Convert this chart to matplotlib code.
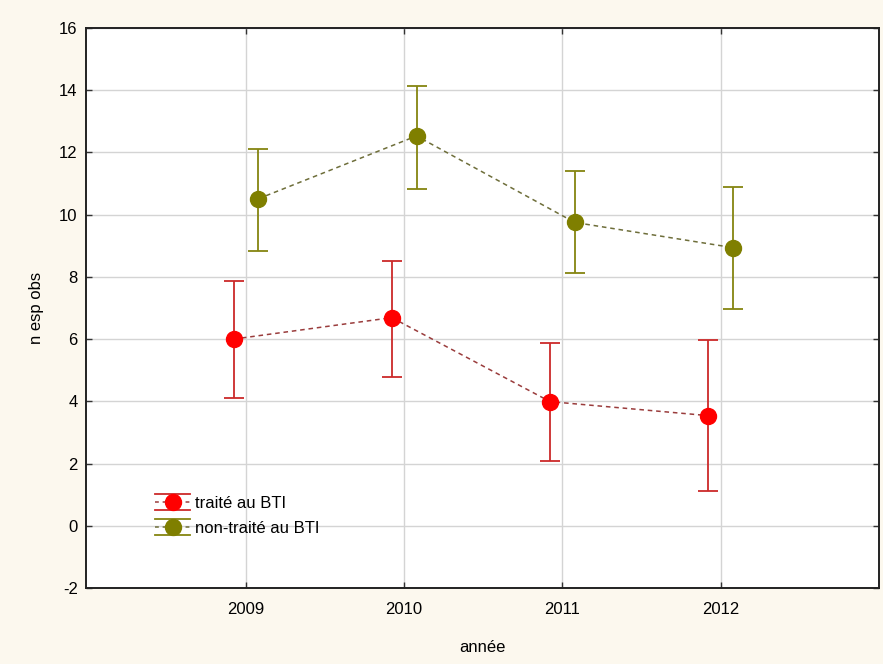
import matplotlib
matplotlib.use("Agg")
import matplotlib.pyplot as plt
from matplotlib.legend_handler import HandlerBase
from matplotlib.lines import Line2D
import numpy as np

plt.rcParams['font.family'] = ['Liberation Sans', 'DejaVu Sans']
plt.rcParams['axes.unicode_minus'] = False

years = ["2009", "2010", "2011", "2012"]
series_names = ["traité au BTI", "non-traité au BTI"]
treated_mean = [6.0, 6.69, 3.99, 3.54]
treated_low = [4.10, 4.77, 2.08, 1.13]
treated_high = [7.87, 8.51, 5.88, 5.96]
untreated_mean = [10.51, 12.53, 9.75, 8.94]
untreated_low = [8.84, 10.84, 8.11, 6.97]
untreated_high = [12.12, 14.14, 11.39, 10.88]
y_ticks = [-2, 0, 2, 4, 6, 8, 10, 12, 14, 16]

bg = "#fcf8ee"
fs = 12
fig = plt.figure(figsize=(8.83, 6.64), dpi=100, facecolor=bg)
ax = fig.add_axes([0.0974, 0.1145, 0.8981, 0.8433])
ax.set_facecolor("white")

x = np.arange(len(years))
offset = 0.078

styles = [
    dict(mean=treated_mean, low=treated_low, high=treated_high, dx=-offset,
         marker="#ff0000", bar="#cc2a2a", line="#9a3c3c"),
    dict(mean=untreated_mean, low=untreated_low, high=untreated_high, dx=offset,
         marker="#7f7f00", bar="#858510", line="#6e6e3a"),
]

for s in styles:
    m = np.array(s["mean"])
    err = np.vstack([m - np.array(s["low"]), np.array(s["high"]) - m])
    xs = x + s["dx"]
    ax.errorbar(xs, m, yerr=err, fmt="none", ecolor=s["bar"], elinewidth=1.3,
                capsize=7.5, capthick=1.3, zorder=3)
    ax.plot(xs, m, linestyle=(0, (3, 2.5)), color=s["line"], linewidth=1.1, zorder=2)
    ax.plot(xs, m, linestyle="none", marker="o", markersize=11.5,
            markerfacecolor=s["marker"], markeredgecolor=s["marker"], zorder=4)

ax.set_xlim(-1.01, 4.0)
ax.set_ylim(-2, 16)
ax.set_xticks(x)
ax.set_xticklabels(years)
ax.set_yticks(y_ticks)
ax.grid(True, color="#d4d4d4", linewidth=1.0, zorder=0)
ax.set_axisbelow(True)
ax.tick_params(direction="in", length=4, width=1, color="#333333",
               top=True, right=True, labelsize=fs, pad=6)
ax.tick_params(axis="x", pad=10)
for sp in ax.spines.values():
    sp.set_color("#222222")
    sp.set_linewidth(1.4)

ax.set_xlabel("année", fontsize=fs, labelpad=17)
ax.set_ylabel("n esp obs", fontsize=fs, labelpad=11)


class StatHandler(HandlerBase):
    def __init__(self, mcolor, bcolor, lcolor):
        super().__init__()
        self.mcolor, self.bcolor, self.lcolor = mcolor, bcolor, lcolor

    def create_artists(self, legend, orig_handle, xdescent, ydescent,
                       width, height, fontsize, trans):
        cy = height / 2 - ydescent
        d = 6.0
        arts = [
            Line2D([-xdescent, width - xdescent], [cy + d, cy + d], color=self.bcolor, lw=1.3),
            Line2D([-xdescent, width - xdescent], [cy - d, cy - d], color=self.bcolor, lw=1.3),
            Line2D([-xdescent, width - xdescent], [cy, cy], color=self.lcolor, lw=1.1,
                   linestyle=(0, (2.5, 2.5))),
            Line2D([(width - 2 * xdescent) / 2], [cy], marker="o", markersize=11.5,
                   color=self.mcolor, linestyle="none"),
        ]
        for a in arts:
            a.set_transform(trans)
        return arts


handles = [Line2D([], [], label=series_names[0]), Line2D([], [], label=series_names[1])]
hmap = {handles[i]: StatHandler(styles[i]["marker"], styles[i]["bar"], styles[i]["line"])
        for i in range(2)}
ax.legend(handles=handles, handler_map=hmap, loc="center left",
          bbox_to_anchor=(0.0786, 0.129), frameon=False, fontsize=fs,
          handlelength=2.1, handletextpad=0.3, labelspacing=0.6,
          borderaxespad=0.0)

fig.savefig("out.png", dpi=100, facecolor=bg)
